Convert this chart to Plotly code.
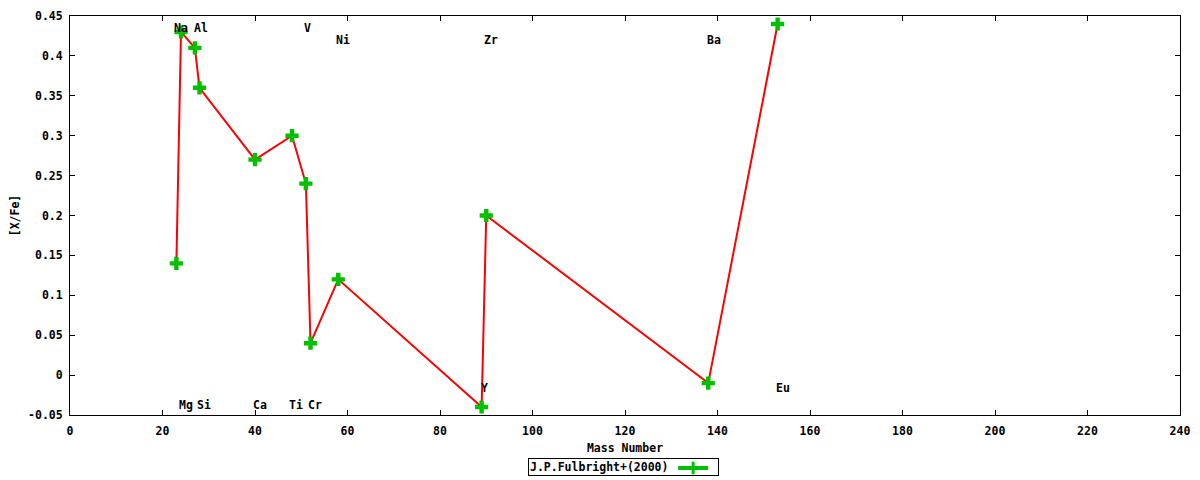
import plotly.graph_objects as go

# abundance ratios
mass = [23, 24, 27, 28, 40, 48, 51, 52, 58, 89, 90, 138, 153]
x_fe = [0.14, 0.43, 0.41, 0.36, 0.27, 0.30, 0.24, 0.04, 0.12, -0.04, 0.20, -0.01, 0.44]

# element labels (left edge of text, in data units)
elements = ["Na", "Mg", "Al", "Si", "Ca", "Ti", "V", "Cr", "Ni", "Y", "Zr", "Ba", "Eu"]
label_x = [22.0, 23.2, 26.3, 27.1, 39.2, 47.0, 50.2, 51.0, 57.0, 88.4, 89.1, 137.3, 152.3]
label_y = [0.435, -0.037, 0.435, -0.037, -0.037, -0.037, 0.435, -0.037, 0.42, -0.016, 0.42, 0.42, -0.016]

y_ticks = [-0.05, 0, 0.05, 0.1, 0.15, 0.2, 0.25, 0.3, 0.35, 0.4, 0.45]
y_ticktext = ["-0.05", "0", "0.05", "0.1", "0.15", "0.2", "0.25", "0.3", "0.35", "0.4", "0.45"]
x_ticks = list(range(0, 241, 20))

series_name = "J.P.Fulbright+(2000)"

FONT = dict(family="DejaVu Sans Mono", size=11.5, color="black", weight="bold")
GREEN = "#00c000"

fig = go.Figure()

fig.add_trace(go.Scatter(
    x=mass, y=x_fe, mode="lines",
    line=dict(color="#ff0000", width=2),
    showlegend=False, hoverinfo="skip",
))
fig.add_trace(go.Scatter(
    x=mass, y=x_fe, mode="markers",
    marker=dict(symbol="cross", size=11, color=GREEN, line=dict(width=0)),
    showlegend=False,
))
# legend sample only (the text sits in the boxed annotation below)
fig.add_trace(go.Scatter(
    x=[None], y=[None], mode="lines+markers", name="",
    line=dict(color=GREEN, width=4),
    marker=dict(symbol="line-ns", size=9, color=GREEN, line=dict(color=GREEN, width=3)),
))

for name, lx, ly in zip(elements, label_x, label_y):
    fig.add_annotation(x=lx, y=ly, text=name, showarrow=False,
                       xanchor="left", yanchor="middle", font=FONT)

# gnuplot-style key box: text first, sample on the right
fig.add_annotation(
    xref="paper", yref="paper", x=0.4986, y=-0.131,
    text=series_name + "\u00a0" * 7, showarrow=False,
    xanchor="center", yanchor="middle", font=FONT,
    bordercolor="black", borderwidth=1, borderpad=1, bgcolor="rgba(0,0,0,0)",
)

axis_style = dict(
    showline=True, linecolor="black", linewidth=1, mirror="ticks",
    ticks="inside", ticklen=5, tickcolor="black",
    showgrid=False, zeroline=False, tickfont=FONT,
)

# page body adds an 8px offset, so the figure is a bit smaller than the window
fig.update_layout(
    width=1192, height=472,
    margin=dict(l=62, r=20, t=7.5, b=64.5, autoexpand=False),
    plot_bgcolor="white", paper_bgcolor="white",
    font=FONT,
    xaxis=dict(range=[0, 240], tickvals=x_ticks, ticklabelstandoff=5,
               title=dict(text="Mass Number", font=FONT, standoff=7), **axis_style),
    yaxis=dict(range=[-0.05, 0.45], tickvals=y_ticks, ticktext=y_ticktext,
               ticklabelstandoff=4,
               title=dict(text="[X/Fe]", font=FONT, standoff=12), **axis_style),
    legend=dict(
        xref="container", yref="container",
        x=0.558, y=0.0254, xanchor="left", yanchor="middle",
        borderwidth=0, bgcolor="rgba(0,0,0,0)",
        itemwidth=30, font=FONT,
    ),
    showlegend=True,
)

fig.write_html("out.html")
